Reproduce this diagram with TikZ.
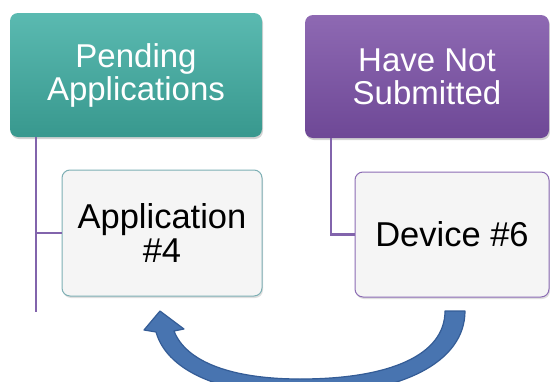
\documentclass[tikz,border=0pt]{standalone}
\usepackage{fontspec}
\setmainfont{Liberation Sans}
\usetikzlibrary{positioning, shadows}
\definecolor{pendTeal}{RGB}{72,178,168}
\definecolor{pendTealDark}{RGB}{56,152,142}
\definecolor{subPurple}{RGB}{132,92,172}
\definecolor{subPurpleDark}{RGB}{110,72,150}
\definecolor{itemGray}{RGB}{245,245,245}
\definecolor{tealEdge}{RGB}{125,175,180}
\definecolor{purpleEdge}{RGB}{140,108,180}
\definecolor{linkPurple}{RGB}{130,100,172}
\definecolor{swapBlue}{RGB}{72,116,176}
\definecolor{swapEdge}{RGB}{52,92,150}

\begin{document}
\begin{tikzpicture}[
    x=1pt, y=-1pt,
    head/.style={rectangle, rounded corners=8pt, text=white, align=center,
        font=\fontsize{33}{33}\selectfont,
        drop shadow={shadow xshift=1pt, shadow yshift=-2pt, opacity=0.35}},
    item/.style={rectangle, rounded corners=8pt, fill=itemGray, line width=1pt, align=center,
        font=\fontsize{34.5}{34}\selectfont,
        drop shadow={shadow xshift=1pt, shadow yshift=-2pt, opacity=0.25}},
    link/.style={draw=linkPurple, line width=2.4pt},
    swap/.style={fill=swapBlue, draw=swapEdge, line width=1.2pt, line join=round}
]
\useasboundingbox (0,0) rectangle (550,381);

% Headers
\node[head, top color=pendTeal!90!white, bottom color=pendTealDark, minimum width=252pt, minimum height=124pt] (pend) at (136,75) {Pending\\Applications};
\node[head, top color=subPurple!92!white, bottom color=subPurpleDark, minimum width=244pt, minimum height=123pt] (notsub) at (427,76.5) {Have Not\\Submitted};

% Items
\node[item, draw=tealEdge, minimum width=200pt, minimum height=126pt] (app) at (162,233) {Application\\\#4};
\node[item, draw=purpleEdge, minimum width=194pt, minimum height=125pt] (dev) at (452,234.5) {Device \#6};

% Tree lines
\coordinate (pendfoot) at (36,312);
\draw[link] (pend.south -| pendfoot) -- (pendfoot);
\draw[link] (app.west -| pendfoot) -- (app.west);
\draw[link] (notsub.south -| 331,0) |- (dev.west);

% Curved swap arrow
\coordinate (tailtop) at (445,311);
\coordinate (tip) at (160,311);
\filldraw[swap] (465,311) -- (tailtop)
    .. controls (445,355) and (390,379) .. (300,379)
    .. controls (232,379) and (186,362) .. (174,331)
    -- (184,329) -- (tip) -- (144,330) -- (156,332)
    .. controls (168,374) and (228,395) .. (300,395)
    .. controls (402,395) and (465,362) .. (465,311) -- cycle;

\end{tikzpicture}
\end{document}
